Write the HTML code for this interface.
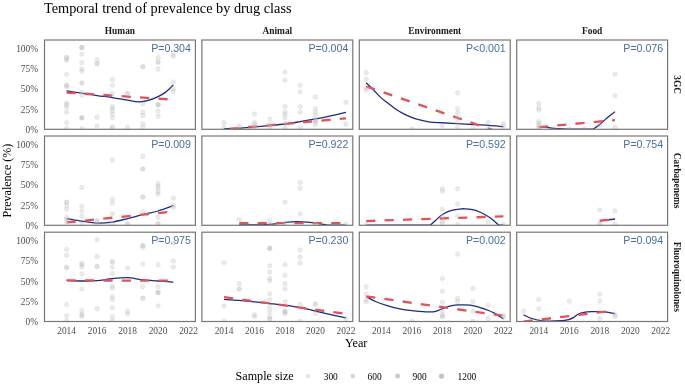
<!DOCTYPE html><html><head><meta charset="utf-8"><title>Temporal trend of prevalence by drug class</title>
<style>html,body{margin:0;padding:0;background:#fff;}svg{display:block;will-change:transform;}text{font-family:"Liberation Serif",serif;}.pv{font-family:"Liberation Sans",sans-serif;font-size:10.6px;fill:#4870a3;text-anchor:end;}.ax{font-size:9.4px;fill:#4d4d4d;}.st{font-size:9.4px;font-weight:bold;fill:#1a1a1a;}</style></head><body>
<svg width="685" height="387" viewBox="0 0 685 387">
<rect x="0" y="0" width="685" height="387" fill="#fff"/>
<text x="44" y="13" style="font-size:14.3px;fill:#000">Temporal trend of prevalence by drug class</text>
<text class="st" x="119.95" y="34" text-anchor="middle">Human</text>
<text class="st" x="277.35" y="34" text-anchor="middle">Animal</text>
<text class="st" x="434.75" y="34" text-anchor="middle">Environment</text>
<text class="st" x="592.15" y="34" text-anchor="middle">Food</text>
<text class="st" x="0" y="0" text-anchor="middle" transform="translate(673.6,84.65) rotate(90)">3GC</text>
<text class="st" x="0" y="0" text-anchor="middle" transform="translate(673.6,180.65) rotate(90)">Carbapenems</text>
<text class="st" x="0" y="0" text-anchor="middle" transform="translate(673.6,276.85) rotate(90)">Fluoroquinolones</text>
<clipPath id="c00"><rect x="44.50" y="40.00" width="150.90" height="89.30"/></clipPath>
<g clip-path="url(#c00)">
<path d="M66.60,90.90 C69.14,91.28 76.76,92.41 81.84,93.19 C86.92,93.96 92.01,94.84 97.09,95.56 C102.17,96.28 107.25,96.74 112.33,97.52 C117.41,98.29 123.25,99.49 127.57,100.21 C131.89,100.94 134.94,101.77 138.24,101.85 C141.54,101.93 144.08,101.58 147.39,100.71 C150.69,99.83 155.01,98.05 158.06,96.62 C161.10,95.19 163.14,94.06 165.68,92.13 C168.22,90.19 172.03,86.20 173.30,85.02" fill="none" stroke="#1f2a80" stroke-width="1.3" stroke-linejoin="round"/>
<line x1="66.60" y1="92.54" x2="173.30" y2="99.64" stroke="#e2525a" stroke-width="2.3" stroke-dasharray="9.2 9.2" stroke-dashoffset="0.00"/>
<text class="pv" x="190.90" y="51.50">P=0.304</text>
<circle cx="66.60" cy="57.40" r="2.25" fill="#bcbcbc" fill-opacity="0.48" stroke="#bcbcbc" stroke-opacity="0.48" stroke-width="0.7"/>
<circle cx="66.60" cy="59.86" r="2.25" fill="#bcbcbc" fill-opacity="0.48" stroke="#bcbcbc" stroke-opacity="0.48" stroke-width="0.7"/>
<circle cx="66.60" cy="74.56" r="2.25" fill="#bcbcbc" fill-opacity="0.30" stroke="#bcbcbc" stroke-opacity="0.30" stroke-width="0.7"/>
<circle cx="66.60" cy="85.18" r="2.25" fill="#bcbcbc" fill-opacity="0.48" stroke="#bcbcbc" stroke-opacity="0.48" stroke-width="0.7"/>
<circle cx="66.60" cy="86.82" r="2.25" fill="#bcbcbc" fill-opacity="0.30" stroke="#bcbcbc" stroke-opacity="0.30" stroke-width="0.7"/>
<circle cx="66.60" cy="103.16" r="2.25" fill="#bcbcbc" fill-opacity="0.30" stroke="#bcbcbc" stroke-opacity="0.30" stroke-width="0.7"/>
<circle cx="66.60" cy="104.79" r="2.25" fill="#bcbcbc" fill-opacity="0.30" stroke="#bcbcbc" stroke-opacity="0.30" stroke-width="0.7"/>
<circle cx="66.60" cy="107.24" r="2.25" fill="#bcbcbc" fill-opacity="0.30" stroke="#bcbcbc" stroke-opacity="0.30" stroke-width="0.7"/>
<circle cx="66.60" cy="112.14" r="2.25" fill="#bcbcbc" fill-opacity="0.30" stroke="#bcbcbc" stroke-opacity="0.30" stroke-width="0.7"/>
<circle cx="66.60" cy="122.76" r="2.25" fill="#bcbcbc" fill-opacity="0.30" stroke="#bcbcbc" stroke-opacity="0.30" stroke-width="0.7"/>
<circle cx="66.60" cy="128.48" r="2.25" fill="#bcbcbc" fill-opacity="0.30" stroke="#bcbcbc" stroke-opacity="0.30" stroke-width="0.7"/>
<circle cx="81.84" cy="47.60" r="2.25" fill="#bcbcbc" fill-opacity="0.66" stroke="#bcbcbc" stroke-opacity="0.66" stroke-width="0.7"/>
<circle cx="81.84" cy="54.14" r="2.25" fill="#bcbcbc" fill-opacity="0.30" stroke="#bcbcbc" stroke-opacity="0.30" stroke-width="0.7"/>
<circle cx="81.84" cy="62.63" r="2.25" fill="#bcbcbc" fill-opacity="0.30" stroke="#bcbcbc" stroke-opacity="0.30" stroke-width="0.7"/>
<circle cx="81.84" cy="69.01" r="2.25" fill="#bcbcbc" fill-opacity="0.30" stroke="#bcbcbc" stroke-opacity="0.30" stroke-width="0.7"/>
<circle cx="81.84" cy="71.37" r="2.25" fill="#bcbcbc" fill-opacity="0.30" stroke="#bcbcbc" stroke-opacity="0.30" stroke-width="0.7"/>
<circle cx="81.84" cy="82.98" r="2.25" fill="#bcbcbc" fill-opacity="0.48" stroke="#bcbcbc" stroke-opacity="0.48" stroke-width="0.7"/>
<circle cx="81.84" cy="92.29" r="2.25" fill="#bcbcbc" fill-opacity="0.30" stroke="#bcbcbc" stroke-opacity="0.30" stroke-width="0.7"/>
<circle cx="81.84" cy="95.07" r="2.25" fill="#bcbcbc" fill-opacity="0.30" stroke="#bcbcbc" stroke-opacity="0.30" stroke-width="0.7"/>
<circle cx="81.84" cy="117.86" r="2.25" fill="#bcbcbc" fill-opacity="0.66" stroke="#bcbcbc" stroke-opacity="0.66" stroke-width="0.7"/>
<circle cx="81.84" cy="128.48" r="2.25" fill="#bcbcbc" fill-opacity="0.30" stroke="#bcbcbc" stroke-opacity="0.30" stroke-width="0.7"/>
<circle cx="97.09" cy="59.86" r="2.25" fill="#bcbcbc" fill-opacity="0.30" stroke="#bcbcbc" stroke-opacity="0.30" stroke-width="0.7"/>
<circle cx="97.09" cy="63.69" r="2.25" fill="#bcbcbc" fill-opacity="0.48" stroke="#bcbcbc" stroke-opacity="0.48" stroke-width="0.7"/>
<circle cx="97.09" cy="117.37" r="2.25" fill="#bcbcbc" fill-opacity="0.30" stroke="#bcbcbc" stroke-opacity="0.30" stroke-width="0.7"/>
<circle cx="97.09" cy="126.03" r="2.25" fill="#bcbcbc" fill-opacity="0.30" stroke="#bcbcbc" stroke-opacity="0.30" stroke-width="0.7"/>
<circle cx="112.33" cy="79.46" r="2.25" fill="#bcbcbc" fill-opacity="0.30" stroke="#bcbcbc" stroke-opacity="0.30" stroke-width="0.7"/>
<circle cx="112.33" cy="85.35" r="2.25" fill="#bcbcbc" fill-opacity="0.30" stroke="#bcbcbc" stroke-opacity="0.30" stroke-width="0.7"/>
<circle cx="112.33" cy="93.52" r="2.25" fill="#bcbcbc" fill-opacity="0.30" stroke="#bcbcbc" stroke-opacity="0.30" stroke-width="0.7"/>
<circle cx="112.33" cy="106.42" r="2.25" fill="#bcbcbc" fill-opacity="0.30" stroke="#bcbcbc" stroke-opacity="0.30" stroke-width="0.7"/>
<circle cx="112.33" cy="108.63" r="2.25" fill="#bcbcbc" fill-opacity="0.30" stroke="#bcbcbc" stroke-opacity="0.30" stroke-width="0.7"/>
<circle cx="112.33" cy="110.92" r="2.25" fill="#bcbcbc" fill-opacity="0.30" stroke="#bcbcbc" stroke-opacity="0.30" stroke-width="0.7"/>
<circle cx="112.33" cy="114.43" r="2.25" fill="#bcbcbc" fill-opacity="0.30" stroke="#bcbcbc" stroke-opacity="0.30" stroke-width="0.7"/>
<circle cx="112.33" cy="117.86" r="2.25" fill="#bcbcbc" fill-opacity="0.30" stroke="#bcbcbc" stroke-opacity="0.30" stroke-width="0.7"/>
<circle cx="112.33" cy="127.18" r="2.25" fill="#bcbcbc" fill-opacity="0.48" stroke="#bcbcbc" stroke-opacity="0.48" stroke-width="0.7"/>
<circle cx="127.57" cy="93.52" r="2.25" fill="#bcbcbc" fill-opacity="0.48" stroke="#bcbcbc" stroke-opacity="0.48" stroke-width="0.7"/>
<circle cx="127.57" cy="127.18" r="2.25" fill="#bcbcbc" fill-opacity="0.30" stroke="#bcbcbc" stroke-opacity="0.30" stroke-width="0.7"/>
<circle cx="142.81" cy="66.72" r="2.25" fill="#bcbcbc" fill-opacity="0.48" stroke="#bcbcbc" stroke-opacity="0.48" stroke-width="0.7"/>
<circle cx="142.81" cy="103.97" r="2.25" fill="#bcbcbc" fill-opacity="0.30" stroke="#bcbcbc" stroke-opacity="0.30" stroke-width="0.7"/>
<circle cx="142.81" cy="112.14" r="2.25" fill="#bcbcbc" fill-opacity="0.30" stroke="#bcbcbc" stroke-opacity="0.30" stroke-width="0.7"/>
<circle cx="142.81" cy="115.57" r="2.25" fill="#bcbcbc" fill-opacity="0.30" stroke="#bcbcbc" stroke-opacity="0.30" stroke-width="0.7"/>
<circle cx="142.81" cy="123.66" r="2.25" fill="#bcbcbc" fill-opacity="0.30" stroke="#bcbcbc" stroke-opacity="0.30" stroke-width="0.7"/>
<circle cx="142.81" cy="127.18" r="2.25" fill="#bcbcbc" fill-opacity="0.30" stroke="#bcbcbc" stroke-opacity="0.30" stroke-width="0.7"/>
<circle cx="158.06" cy="57.40" r="2.25" fill="#bcbcbc" fill-opacity="0.30" stroke="#bcbcbc" stroke-opacity="0.30" stroke-width="0.7"/>
<circle cx="158.06" cy="62.14" r="2.25" fill="#bcbcbc" fill-opacity="0.48" stroke="#bcbcbc" stroke-opacity="0.48" stroke-width="0.7"/>
<circle cx="158.06" cy="69.01" r="2.25" fill="#bcbcbc" fill-opacity="0.30" stroke="#bcbcbc" stroke-opacity="0.30" stroke-width="0.7"/>
<circle cx="158.06" cy="104.71" r="2.25" fill="#bcbcbc" fill-opacity="0.66" stroke="#bcbcbc" stroke-opacity="0.66" stroke-width="0.7"/>
<circle cx="158.06" cy="110.92" r="2.25" fill="#bcbcbc" fill-opacity="0.30" stroke="#bcbcbc" stroke-opacity="0.30" stroke-width="0.7"/>
<circle cx="158.06" cy="116.31" r="2.25" fill="#bcbcbc" fill-opacity="0.30" stroke="#bcbcbc" stroke-opacity="0.30" stroke-width="0.7"/>
<circle cx="173.30" cy="54.14" r="2.25" fill="#bcbcbc" fill-opacity="0.30" stroke="#bcbcbc" stroke-opacity="0.30" stroke-width="0.7"/>
<circle cx="173.30" cy="56.34" r="2.25" fill="#bcbcbc" fill-opacity="0.30" stroke="#bcbcbc" stroke-opacity="0.30" stroke-width="0.7"/>
<circle cx="173.30" cy="81.91" r="2.25" fill="#bcbcbc" fill-opacity="0.30" stroke="#bcbcbc" stroke-opacity="0.30" stroke-width="0.7"/>
<circle cx="173.30" cy="88.78" r="2.25" fill="#bcbcbc" fill-opacity="0.30" stroke="#bcbcbc" stroke-opacity="0.30" stroke-width="0.7"/>
<circle cx="173.30" cy="91.64" r="2.25" fill="#bcbcbc" fill-opacity="0.30" stroke="#bcbcbc" stroke-opacity="0.30" stroke-width="0.7"/>
</g>
<rect x="44.50" y="40.00" width="150.90" height="89.30" fill="none" stroke="#777777" stroke-width="1.20"/>
<clipPath id="c10"><rect x="201.90" y="40.00" width="150.90" height="89.30"/></clipPath>
<g clip-path="url(#c10)">
<path d="M224.00,128.56 C226.54,128.51 234.16,128.52 239.24,128.24 C244.32,127.95 249.41,127.30 254.49,126.85 C259.57,126.40 264.65,126.02 269.73,125.54 C274.81,125.07 279.89,124.64 284.97,123.99 C290.05,123.34 295.13,122.46 300.21,121.62 C305.29,120.78 310.38,119.89 315.46,118.92 C320.54,117.96 325.62,116.92 330.70,115.82 C335.78,114.72 343.40,112.89 345.94,112.31" fill="none" stroke="#1f2a80" stroke-width="1.3" stroke-linejoin="round"/>
<line x1="224.00" y1="129.42" x2="345.94" y2="118.35" stroke="#e2525a" stroke-width="2.3" stroke-dasharray="9.2 9.2" stroke-dashoffset="12.60"/>
<text class="pv" x="348.30" y="51.50">P=0.004</text>
<circle cx="224.00" cy="122.60" r="2.25" fill="#bcbcbc" fill-opacity="0.30" stroke="#bcbcbc" stroke-opacity="0.30" stroke-width="0.7"/>
<circle cx="224.00" cy="127.18" r="2.25" fill="#bcbcbc" fill-opacity="0.30" stroke="#bcbcbc" stroke-opacity="0.30" stroke-width="0.7"/>
<circle cx="239.24" cy="126.03" r="2.25" fill="#bcbcbc" fill-opacity="0.30" stroke="#bcbcbc" stroke-opacity="0.30" stroke-width="0.7"/>
<circle cx="239.24" cy="128.48" r="2.25" fill="#bcbcbc" fill-opacity="0.30" stroke="#bcbcbc" stroke-opacity="0.30" stroke-width="0.7"/>
<circle cx="254.49" cy="114.02" r="2.25" fill="#bcbcbc" fill-opacity="0.30" stroke="#bcbcbc" stroke-opacity="0.30" stroke-width="0.7"/>
<circle cx="254.49" cy="122.60" r="2.25" fill="#bcbcbc" fill-opacity="0.30" stroke="#bcbcbc" stroke-opacity="0.30" stroke-width="0.7"/>
<circle cx="254.49" cy="124.56" r="2.25" fill="#bcbcbc" fill-opacity="0.30" stroke="#bcbcbc" stroke-opacity="0.30" stroke-width="0.7"/>
<circle cx="254.49" cy="127.18" r="2.25" fill="#bcbcbc" fill-opacity="0.30" stroke="#bcbcbc" stroke-opacity="0.30" stroke-width="0.7"/>
<circle cx="269.73" cy="119.09" r="2.25" fill="#bcbcbc" fill-opacity="0.30" stroke="#bcbcbc" stroke-opacity="0.30" stroke-width="0.7"/>
<circle cx="269.73" cy="124.56" r="2.25" fill="#bcbcbc" fill-opacity="0.30" stroke="#bcbcbc" stroke-opacity="0.30" stroke-width="0.7"/>
<circle cx="269.73" cy="127.18" r="2.25" fill="#bcbcbc" fill-opacity="0.30" stroke="#bcbcbc" stroke-opacity="0.30" stroke-width="0.7"/>
<circle cx="284.97" cy="72.11" r="2.25" fill="#bcbcbc" fill-opacity="0.30" stroke="#bcbcbc" stroke-opacity="0.30" stroke-width="0.7"/>
<circle cx="284.97" cy="80.28" r="2.25" fill="#bcbcbc" fill-opacity="0.30" stroke="#bcbcbc" stroke-opacity="0.30" stroke-width="0.7"/>
<circle cx="284.97" cy="106.42" r="2.25" fill="#bcbcbc" fill-opacity="0.30" stroke="#bcbcbc" stroke-opacity="0.30" stroke-width="0.7"/>
<circle cx="284.97" cy="112.14" r="2.25" fill="#bcbcbc" fill-opacity="0.30" stroke="#bcbcbc" stroke-opacity="0.30" stroke-width="0.7"/>
<circle cx="284.97" cy="114.43" r="2.25" fill="#bcbcbc" fill-opacity="0.30" stroke="#bcbcbc" stroke-opacity="0.30" stroke-width="0.7"/>
<circle cx="284.97" cy="117.94" r="2.25" fill="#bcbcbc" fill-opacity="0.30" stroke="#bcbcbc" stroke-opacity="0.30" stroke-width="0.7"/>
<circle cx="284.97" cy="123.58" r="2.25" fill="#bcbcbc" fill-opacity="0.30" stroke="#bcbcbc" stroke-opacity="0.30" stroke-width="0.7"/>
<circle cx="284.97" cy="127.67" r="2.25" fill="#bcbcbc" fill-opacity="0.30" stroke="#bcbcbc" stroke-opacity="0.30" stroke-width="0.7"/>
<circle cx="300.21" cy="85.35" r="2.25" fill="#bcbcbc" fill-opacity="0.30" stroke="#bcbcbc" stroke-opacity="0.30" stroke-width="0.7"/>
<circle cx="300.21" cy="91.64" r="2.25" fill="#bcbcbc" fill-opacity="0.30" stroke="#bcbcbc" stroke-opacity="0.30" stroke-width="0.7"/>
<circle cx="300.21" cy="106.42" r="2.25" fill="#bcbcbc" fill-opacity="0.30" stroke="#bcbcbc" stroke-opacity="0.30" stroke-width="0.7"/>
<circle cx="300.21" cy="112.14" r="2.25" fill="#bcbcbc" fill-opacity="0.30" stroke="#bcbcbc" stroke-opacity="0.30" stroke-width="0.7"/>
<circle cx="300.21" cy="127.67" r="2.25" fill="#bcbcbc" fill-opacity="0.30" stroke="#bcbcbc" stroke-opacity="0.30" stroke-width="0.7"/>
<circle cx="315.46" cy="97.03" r="2.25" fill="#bcbcbc" fill-opacity="0.30" stroke="#bcbcbc" stroke-opacity="0.30" stroke-width="0.7"/>
<circle cx="315.46" cy="108.63" r="2.25" fill="#bcbcbc" fill-opacity="0.30" stroke="#bcbcbc" stroke-opacity="0.30" stroke-width="0.7"/>
<circle cx="315.46" cy="112.14" r="2.25" fill="#bcbcbc" fill-opacity="0.30" stroke="#bcbcbc" stroke-opacity="0.30" stroke-width="0.7"/>
<circle cx="315.46" cy="115.57" r="2.25" fill="#bcbcbc" fill-opacity="0.30" stroke="#bcbcbc" stroke-opacity="0.30" stroke-width="0.7"/>
<circle cx="315.46" cy="120.23" r="2.25" fill="#bcbcbc" fill-opacity="0.48" stroke="#bcbcbc" stroke-opacity="0.48" stroke-width="0.7"/>
<circle cx="315.46" cy="122.36" r="2.25" fill="#bcbcbc" fill-opacity="0.30" stroke="#bcbcbc" stroke-opacity="0.30" stroke-width="0.7"/>
<circle cx="315.46" cy="124.56" r="2.25" fill="#bcbcbc" fill-opacity="0.30" stroke="#bcbcbc" stroke-opacity="0.30" stroke-width="0.7"/>
<circle cx="345.94" cy="102.34" r="2.25" fill="#bcbcbc" fill-opacity="0.30" stroke="#bcbcbc" stroke-opacity="0.30" stroke-width="0.7"/>
<circle cx="345.94" cy="124.23" r="2.25" fill="#bcbcbc" fill-opacity="0.30" stroke="#bcbcbc" stroke-opacity="0.30" stroke-width="0.7"/>
</g>
<rect x="201.90" y="40.00" width="150.90" height="89.30" fill="none" stroke="#777777" stroke-width="1.20"/>
<clipPath id="c20"><rect x="359.30" y="40.00" width="150.90" height="89.30"/></clipPath>
<g clip-path="url(#c20)">
<path d="M366.16,82.73 C367.28,83.81 370.55,86.83 372.87,89.19 C375.18,91.54 377.54,94.55 380.03,96.87 C382.52,99.18 385.21,101.05 387.80,103.07 C390.39,105.10 393.01,107.28 395.58,109.04 C398.14,110.79 400.63,112.27 403.20,113.61 C405.76,114.96 408.38,116.12 410.97,117.13 C413.56,118.13 415.54,118.84 418.75,119.66 C421.95,120.48 426.24,121.51 430.18,122.03 C434.11,122.55 437.80,122.49 442.37,122.76 C446.94,123.04 452.53,123.38 457.61,123.66 C462.69,123.95 467.78,124.19 472.86,124.48 C477.94,124.77 483.02,125.02 488.10,125.38 C493.18,125.73 500.80,126.40 503.34,126.60" fill="none" stroke="#1f2a80" stroke-width="1.3" stroke-linejoin="round"/>
<line x1="366.16" y1="86.33" x2="503.34" y2="133.71" stroke="#e2525a" stroke-width="2.3" stroke-dasharray="9.2 9.2" stroke-dashoffset="0.00"/>
<text class="pv" x="505.70" y="51.50">P&lt;0.001</text>
<circle cx="366.16" cy="72.60" r="2.25" fill="#bcbcbc" fill-opacity="0.30" stroke="#bcbcbc" stroke-opacity="0.30" stroke-width="0.7"/>
<circle cx="366.16" cy="79.14" r="2.25" fill="#bcbcbc" fill-opacity="0.30" stroke="#bcbcbc" stroke-opacity="0.30" stroke-width="0.7"/>
<circle cx="366.16" cy="87.63" r="2.25" fill="#bcbcbc" fill-opacity="0.30" stroke="#bcbcbc" stroke-opacity="0.30" stroke-width="0.7"/>
<circle cx="366.16" cy="90.08" r="2.25" fill="#bcbcbc" fill-opacity="0.30" stroke="#bcbcbc" stroke-opacity="0.30" stroke-width="0.7"/>
<circle cx="411.89" cy="129.05" r="2.25" fill="#bcbcbc" fill-opacity="0.30" stroke="#bcbcbc" stroke-opacity="0.30" stroke-width="0.7"/>
<circle cx="442.37" cy="125.54" r="2.25" fill="#bcbcbc" fill-opacity="0.30" stroke="#bcbcbc" stroke-opacity="0.30" stroke-width="0.7"/>
<circle cx="457.61" cy="93.03" r="2.25" fill="#bcbcbc" fill-opacity="0.30" stroke="#bcbcbc" stroke-opacity="0.30" stroke-width="0.7"/>
<circle cx="457.61" cy="108.63" r="2.25" fill="#bcbcbc" fill-opacity="0.30" stroke="#bcbcbc" stroke-opacity="0.30" stroke-width="0.7"/>
<circle cx="457.61" cy="113.29" r="2.25" fill="#bcbcbc" fill-opacity="0.30" stroke="#bcbcbc" stroke-opacity="0.30" stroke-width="0.7"/>
<circle cx="457.61" cy="117.94" r="2.25" fill="#bcbcbc" fill-opacity="0.30" stroke="#bcbcbc" stroke-opacity="0.30" stroke-width="0.7"/>
<circle cx="457.61" cy="122.60" r="2.25" fill="#bcbcbc" fill-opacity="0.30" stroke="#bcbcbc" stroke-opacity="0.30" stroke-width="0.7"/>
<circle cx="457.61" cy="127.18" r="2.25" fill="#bcbcbc" fill-opacity="0.30" stroke="#bcbcbc" stroke-opacity="0.30" stroke-width="0.7"/>
<circle cx="472.86" cy="128.89" r="2.25" fill="#bcbcbc" fill-opacity="0.30" stroke="#bcbcbc" stroke-opacity="0.30" stroke-width="0.7"/>
<circle cx="488.10" cy="122.60" r="2.25" fill="#bcbcbc" fill-opacity="0.30" stroke="#bcbcbc" stroke-opacity="0.30" stroke-width="0.7"/>
<circle cx="488.10" cy="128.89" r="2.25" fill="#bcbcbc" fill-opacity="0.30" stroke="#bcbcbc" stroke-opacity="0.30" stroke-width="0.7"/>
<circle cx="503.34" cy="123.58" r="2.25" fill="#bcbcbc" fill-opacity="0.30" stroke="#bcbcbc" stroke-opacity="0.30" stroke-width="0.7"/>
<circle cx="503.34" cy="126.28" r="2.25" fill="#bcbcbc" fill-opacity="0.30" stroke="#bcbcbc" stroke-opacity="0.30" stroke-width="0.7"/>
<circle cx="488.10" cy="47.60" r="2.25" fill="#bcbcbc" fill-opacity="0.30" stroke="#bcbcbc" stroke-opacity="0.30" stroke-width="0.7"/>
</g>
<rect x="359.30" y="40.00" width="150.90" height="89.30" fill="none" stroke="#777777" stroke-width="1.20"/>
<clipPath id="c30"><rect x="516.70" y="40.00" width="150.90" height="89.30"/></clipPath>
<g clip-path="url(#c30)">
<path d="M538.80,126.60 C540.17,126.71 544.54,126.97 547.03,127.26 C549.52,127.54 551.10,128.03 553.74,128.32 C556.38,128.61 560.27,128.84 562.88,128.97 C565.50,129.11 568.35,129.11 569.44,129.14 L593.06,129.14 C593.93,128.55 596.49,126.99 598.25,125.62 C600.00,124.26 601.83,122.51 603.58,120.97 C605.33,119.43 606.86,117.92 608.76,116.39 C610.67,114.87 613.97,112.58 615.01,111.82" fill="none" stroke="#1f2a80" stroke-width="1.3" stroke-linejoin="round"/>
<line x1="538.80" y1="127.18" x2="615.01" y2="120.07" stroke="#e2525a" stroke-width="2.3" stroke-dasharray="9.2 9.2" stroke-dashoffset="0.00"/>
<text class="pv" x="663.10" y="51.50">P=0.076</text>
<circle cx="538.80" cy="103.32" r="2.25" fill="#bcbcbc" fill-opacity="0.30" stroke="#bcbcbc" stroke-opacity="0.30" stroke-width="0.7"/>
<circle cx="538.80" cy="107.40" r="2.25" fill="#bcbcbc" fill-opacity="0.30" stroke="#bcbcbc" stroke-opacity="0.30" stroke-width="0.7"/>
<circle cx="538.80" cy="110.18" r="2.25" fill="#bcbcbc" fill-opacity="0.30" stroke="#bcbcbc" stroke-opacity="0.30" stroke-width="0.7"/>
<circle cx="538.80" cy="121.38" r="2.25" fill="#bcbcbc" fill-opacity="0.30" stroke="#bcbcbc" stroke-opacity="0.30" stroke-width="0.7"/>
<circle cx="538.80" cy="123.58" r="2.25" fill="#bcbcbc" fill-opacity="0.30" stroke="#bcbcbc" stroke-opacity="0.30" stroke-width="0.7"/>
<circle cx="538.80" cy="125.71" r="2.25" fill="#bcbcbc" fill-opacity="0.30" stroke="#bcbcbc" stroke-opacity="0.30" stroke-width="0.7"/>
<circle cx="538.80" cy="127.67" r="2.25" fill="#bcbcbc" fill-opacity="0.30" stroke="#bcbcbc" stroke-opacity="0.30" stroke-width="0.7"/>
<circle cx="554.04" cy="128.48" r="2.25" fill="#bcbcbc" fill-opacity="0.30" stroke="#bcbcbc" stroke-opacity="0.30" stroke-width="0.7"/>
<circle cx="569.29" cy="128.89" r="2.25" fill="#bcbcbc" fill-opacity="0.30" stroke="#bcbcbc" stroke-opacity="0.30" stroke-width="0.7"/>
<circle cx="584.53" cy="128.89" r="2.25" fill="#bcbcbc" fill-opacity="0.30" stroke="#bcbcbc" stroke-opacity="0.30" stroke-width="0.7"/>
<circle cx="599.77" cy="125.22" r="2.25" fill="#bcbcbc" fill-opacity="0.30" stroke="#bcbcbc" stroke-opacity="0.30" stroke-width="0.7"/>
<circle cx="615.01" cy="74.23" r="2.25" fill="#bcbcbc" fill-opacity="0.30" stroke="#bcbcbc" stroke-opacity="0.30" stroke-width="0.7"/>
<circle cx="615.01" cy="95.80" r="2.25" fill="#bcbcbc" fill-opacity="0.30" stroke="#bcbcbc" stroke-opacity="0.30" stroke-width="0.7"/>
<circle cx="615.01" cy="127.67" r="2.25" fill="#bcbcbc" fill-opacity="0.30" stroke="#bcbcbc" stroke-opacity="0.30" stroke-width="0.7"/>
</g>
<rect x="516.70" y="40.00" width="150.90" height="89.30" fill="none" stroke="#777777" stroke-width="1.20"/>
<clipPath id="c01"><rect x="44.50" y="136.00" width="150.90" height="89.30"/></clipPath>
<g clip-path="url(#c01)">
<path d="M66.60,218.52 C69.14,218.95 76.76,220.37 81.84,221.13 C86.92,221.90 92.01,222.94 97.09,223.09 C102.17,223.24 107.25,222.79 112.33,222.03 C117.41,221.27 122.49,219.77 127.57,218.52 C132.65,217.27 137.73,215.77 142.81,214.52 C147.89,213.26 152.98,212.47 158.06,211.00 C163.14,209.53 170.76,206.58 173.30,205.69" fill="none" stroke="#1f2a80" stroke-width="1.3" stroke-linejoin="round"/>
<line x1="66.60" y1="222.44" x2="173.30" y2="211.49" stroke="#e2525a" stroke-width="2.3" stroke-dasharray="9.2 9.2" stroke-dashoffset="0.00"/>
<text class="pv" x="190.90" y="147.50">P=0.009</text>
<circle cx="66.60" cy="202.18" r="2.25" fill="#bcbcbc" fill-opacity="0.48" stroke="#bcbcbc" stroke-opacity="0.48" stroke-width="0.7"/>
<circle cx="66.60" cy="205.69" r="2.25" fill="#bcbcbc" fill-opacity="0.30" stroke="#bcbcbc" stroke-opacity="0.30" stroke-width="0.7"/>
<circle cx="66.60" cy="209.21" r="2.25" fill="#bcbcbc" fill-opacity="0.30" stroke="#bcbcbc" stroke-opacity="0.30" stroke-width="0.7"/>
<circle cx="66.60" cy="217.29" r="2.25" fill="#bcbcbc" fill-opacity="0.30" stroke="#bcbcbc" stroke-opacity="0.30" stroke-width="0.7"/>
<circle cx="66.60" cy="219.25" r="2.25" fill="#bcbcbc" fill-opacity="0.30" stroke="#bcbcbc" stroke-opacity="0.30" stroke-width="0.7"/>
<circle cx="66.60" cy="222.20" r="2.25" fill="#bcbcbc" fill-opacity="0.30" stroke="#bcbcbc" stroke-opacity="0.30" stroke-width="0.7"/>
<circle cx="81.84" cy="187.47" r="2.25" fill="#bcbcbc" fill-opacity="0.30" stroke="#bcbcbc" stroke-opacity="0.30" stroke-width="0.7"/>
<circle cx="81.84" cy="206.26" r="2.25" fill="#bcbcbc" fill-opacity="0.30" stroke="#bcbcbc" stroke-opacity="0.30" stroke-width="0.7"/>
<circle cx="81.84" cy="211.00" r="2.25" fill="#bcbcbc" fill-opacity="0.30" stroke="#bcbcbc" stroke-opacity="0.30" stroke-width="0.7"/>
<circle cx="81.84" cy="216.15" r="2.25" fill="#bcbcbc" fill-opacity="0.30" stroke="#bcbcbc" stroke-opacity="0.30" stroke-width="0.7"/>
<circle cx="81.84" cy="224.07" r="2.25" fill="#bcbcbc" fill-opacity="0.30" stroke="#bcbcbc" stroke-opacity="0.30" stroke-width="0.7"/>
<circle cx="97.09" cy="220.81" r="2.25" fill="#bcbcbc" fill-opacity="0.48" stroke="#bcbcbc" stroke-opacity="0.48" stroke-width="0.7"/>
<circle cx="97.09" cy="223.67" r="2.25" fill="#bcbcbc" fill-opacity="0.30" stroke="#bcbcbc" stroke-opacity="0.30" stroke-width="0.7"/>
<circle cx="112.33" cy="159.94" r="2.25" fill="#bcbcbc" fill-opacity="0.30" stroke="#bcbcbc" stroke-opacity="0.30" stroke-width="0.7"/>
<circle cx="112.33" cy="199.16" r="2.25" fill="#bcbcbc" fill-opacity="0.30" stroke="#bcbcbc" stroke-opacity="0.30" stroke-width="0.7"/>
<circle cx="112.33" cy="203.24" r="2.25" fill="#bcbcbc" fill-opacity="0.30" stroke="#bcbcbc" stroke-opacity="0.30" stroke-width="0.7"/>
<circle cx="112.33" cy="213.86" r="2.25" fill="#bcbcbc" fill-opacity="0.30" stroke="#bcbcbc" stroke-opacity="0.30" stroke-width="0.7"/>
<circle cx="112.33" cy="223.67" r="2.25" fill="#bcbcbc" fill-opacity="0.30" stroke="#bcbcbc" stroke-opacity="0.30" stroke-width="0.7"/>
<circle cx="127.57" cy="224.07" r="2.25" fill="#bcbcbc" fill-opacity="0.48" stroke="#bcbcbc" stroke-opacity="0.48" stroke-width="0.7"/>
<circle cx="142.81" cy="156.43" r="2.25" fill="#bcbcbc" fill-opacity="0.30" stroke="#bcbcbc" stroke-opacity="0.30" stroke-width="0.7"/>
<circle cx="142.81" cy="168.93" r="2.25" fill="#bcbcbc" fill-opacity="0.48" stroke="#bcbcbc" stroke-opacity="0.48" stroke-width="0.7"/>
<circle cx="142.81" cy="197.11" r="2.25" fill="#bcbcbc" fill-opacity="0.48" stroke="#bcbcbc" stroke-opacity="0.48" stroke-width="0.7"/>
<circle cx="142.81" cy="211.49" r="2.25" fill="#bcbcbc" fill-opacity="0.30" stroke="#bcbcbc" stroke-opacity="0.30" stroke-width="0.7"/>
<circle cx="158.06" cy="183.63" r="2.25" fill="#bcbcbc" fill-opacity="0.30" stroke="#bcbcbc" stroke-opacity="0.30" stroke-width="0.7"/>
<circle cx="158.06" cy="185.92" r="2.25" fill="#bcbcbc" fill-opacity="0.30" stroke="#bcbcbc" stroke-opacity="0.30" stroke-width="0.7"/>
<circle cx="158.06" cy="188.21" r="2.25" fill="#bcbcbc" fill-opacity="0.30" stroke="#bcbcbc" stroke-opacity="0.30" stroke-width="0.7"/>
<circle cx="158.06" cy="191.72" r="2.25" fill="#bcbcbc" fill-opacity="0.30" stroke="#bcbcbc" stroke-opacity="0.30" stroke-width="0.7"/>
<circle cx="158.06" cy="194.01" r="2.25" fill="#bcbcbc" fill-opacity="0.30" stroke="#bcbcbc" stroke-opacity="0.30" stroke-width="0.7"/>
<circle cx="158.06" cy="217.29" r="2.25" fill="#bcbcbc" fill-opacity="0.30" stroke="#bcbcbc" stroke-opacity="0.30" stroke-width="0.7"/>
<circle cx="158.06" cy="223.67" r="2.25" fill="#bcbcbc" fill-opacity="0.48" stroke="#bcbcbc" stroke-opacity="0.48" stroke-width="0.7"/>
<circle cx="173.30" cy="198.18" r="2.25" fill="#bcbcbc" fill-opacity="0.30" stroke="#bcbcbc" stroke-opacity="0.30" stroke-width="0.7"/>
<circle cx="173.30" cy="205.20" r="2.25" fill="#bcbcbc" fill-opacity="0.30" stroke="#bcbcbc" stroke-opacity="0.30" stroke-width="0.7"/>
<circle cx="173.30" cy="207.33" r="2.25" fill="#bcbcbc" fill-opacity="0.30" stroke="#bcbcbc" stroke-opacity="0.30" stroke-width="0.7"/>
</g>
<rect x="44.50" y="136.00" width="150.90" height="89.30" fill="none" stroke="#777777" stroke-width="1.20"/>
<clipPath id="c11"><rect x="201.90" y="136.00" width="150.90" height="89.30"/></clipPath>
<g clip-path="url(#c11)">
<path d="M239.24,224.97 L259.06,224.97 C260.05,224.92 262.26,224.84 265.00,224.65 C267.75,224.46 272.02,224.21 275.52,223.83 C279.03,223.45 282.53,222.71 286.04,222.36 C289.54,222.00 293.05,221.75 296.56,221.71 C300.06,221.66 303.57,221.84 307.07,222.11 C310.58,222.39 314.39,222.86 317.59,223.34 C320.79,223.82 324.35,224.66 326.28,224.97 C328.21,225.29 328.69,225.18 329.17,225.22 L345.94,225.22" fill="none" stroke="#1f2a80" stroke-width="1.3" stroke-linejoin="round"/>
<line x1="239.24" y1="223.09" x2="345.94" y2="223.09" stroke="#e2525a" stroke-width="2.3" stroke-dasharray="9.2 9.2" stroke-dashoffset="0.00"/>
<text class="pv" x="348.30" y="147.50">P=0.922</text>
<circle cx="239.24" cy="219.58" r="2.25" fill="#bcbcbc" fill-opacity="0.30" stroke="#bcbcbc" stroke-opacity="0.30" stroke-width="0.7"/>
<circle cx="269.73" cy="220.56" r="2.25" fill="#bcbcbc" fill-opacity="0.30" stroke="#bcbcbc" stroke-opacity="0.30" stroke-width="0.7"/>
<circle cx="269.73" cy="224.48" r="2.25" fill="#bcbcbc" fill-opacity="0.30" stroke="#bcbcbc" stroke-opacity="0.30" stroke-width="0.7"/>
<circle cx="284.97" cy="202.18" r="2.25" fill="#bcbcbc" fill-opacity="0.30" stroke="#bcbcbc" stroke-opacity="0.30" stroke-width="0.7"/>
<circle cx="284.97" cy="222.85" r="2.25" fill="#bcbcbc" fill-opacity="0.30" stroke="#bcbcbc" stroke-opacity="0.30" stroke-width="0.7"/>
<circle cx="300.21" cy="182.41" r="2.25" fill="#bcbcbc" fill-opacity="0.30" stroke="#bcbcbc" stroke-opacity="0.30" stroke-width="0.7"/>
<circle cx="300.21" cy="188.21" r="2.25" fill="#bcbcbc" fill-opacity="0.30" stroke="#bcbcbc" stroke-opacity="0.30" stroke-width="0.7"/>
<circle cx="300.21" cy="213.86" r="2.25" fill="#bcbcbc" fill-opacity="0.30" stroke="#bcbcbc" stroke-opacity="0.30" stroke-width="0.7"/>
<circle cx="315.46" cy="224.48" r="2.25" fill="#bcbcbc" fill-opacity="0.30" stroke="#bcbcbc" stroke-opacity="0.30" stroke-width="0.7"/>
<circle cx="345.94" cy="224.07" r="2.25" fill="#bcbcbc" fill-opacity="0.30" stroke="#bcbcbc" stroke-opacity="0.30" stroke-width="0.7"/>
</g>
<rect x="201.90" y="136.00" width="150.90" height="89.30" fill="none" stroke="#777777" stroke-width="1.20"/>
<clipPath id="c21"><rect x="359.30" y="136.00" width="150.90" height="89.30"/></clipPath>
<g clip-path="url(#c21)">
<path d="M366.16,225.05 L430.48,225.05 C431.37,224.25 434.06,221.81 435.82,220.23 C437.57,218.66 439.25,216.90 441.00,215.58 C442.75,214.26 444.35,213.22 446.33,212.31 C448.32,211.40 450.70,210.65 452.89,210.10 C455.07,209.56 457.46,209.26 459.44,209.04 C461.42,208.82 462.59,208.69 464.78,208.80 C466.96,208.91 470.16,209.21 472.55,209.70 C474.94,210.19 476.92,210.85 479.11,211.74 C481.29,212.62 483.45,213.70 485.66,215.01 C487.87,216.31 490.18,217.91 492.37,219.58 C494.55,221.26 497.70,224.14 498.77,225.05 L503.34,225.05" fill="none" stroke="#1f2a80" stroke-width="1.3" stroke-linejoin="round"/>
<line x1="366.16" y1="221.05" x2="503.34" y2="216.31" stroke="#e2525a" stroke-width="2.3" stroke-dasharray="9.2 9.2" stroke-dashoffset="0.00"/>
<text class="pv" x="505.70" y="147.50">P=0.592</text>
<circle cx="366.16" cy="224.89" r="2.25" fill="#bcbcbc" fill-opacity="0.30" stroke="#bcbcbc" stroke-opacity="0.30" stroke-width="0.7"/>
<circle cx="442.37" cy="188.86" r="2.25" fill="#bcbcbc" fill-opacity="0.30" stroke="#bcbcbc" stroke-opacity="0.30" stroke-width="0.7"/>
<circle cx="442.37" cy="191.15" r="2.25" fill="#bcbcbc" fill-opacity="0.30" stroke="#bcbcbc" stroke-opacity="0.30" stroke-width="0.7"/>
<circle cx="442.37" cy="209.21" r="2.25" fill="#bcbcbc" fill-opacity="0.30" stroke="#bcbcbc" stroke-opacity="0.30" stroke-width="0.7"/>
<circle cx="442.37" cy="216.15" r="2.25" fill="#bcbcbc" fill-opacity="0.30" stroke="#bcbcbc" stroke-opacity="0.30" stroke-width="0.7"/>
<circle cx="442.37" cy="222.20" r="2.25" fill="#bcbcbc" fill-opacity="0.48" stroke="#bcbcbc" stroke-opacity="0.48" stroke-width="0.7"/>
<circle cx="457.61" cy="188.86" r="2.25" fill="#bcbcbc" fill-opacity="0.30" stroke="#bcbcbc" stroke-opacity="0.30" stroke-width="0.7"/>
<circle cx="457.61" cy="204.06" r="2.25" fill="#bcbcbc" fill-opacity="0.30" stroke="#bcbcbc" stroke-opacity="0.30" stroke-width="0.7"/>
<circle cx="457.61" cy="216.15" r="2.25" fill="#bcbcbc" fill-opacity="0.30" stroke="#bcbcbc" stroke-opacity="0.30" stroke-width="0.7"/>
<circle cx="457.61" cy="224.48" r="2.25" fill="#bcbcbc" fill-opacity="0.30" stroke="#bcbcbc" stroke-opacity="0.30" stroke-width="0.7"/>
<circle cx="488.10" cy="221.71" r="2.25" fill="#bcbcbc" fill-opacity="0.30" stroke="#bcbcbc" stroke-opacity="0.30" stroke-width="0.7"/>
<circle cx="503.34" cy="224.48" r="2.25" fill="#bcbcbc" fill-opacity="0.30" stroke="#bcbcbc" stroke-opacity="0.30" stroke-width="0.7"/>
</g>
<rect x="359.30" y="136.00" width="150.90" height="89.30" fill="none" stroke="#777777" stroke-width="1.20"/>
<clipPath id="c31"><rect x="516.70" y="136.00" width="150.90" height="89.30"/></clipPath>
<g clip-path="url(#c31)">
<path d="M599.77,220.89 L615.01,219.01" fill="none" stroke="#1f2a80" stroke-width="1.3" stroke-linejoin="round"/>
<line x1="599.77" y1="220.72" x2="615.01" y2="219.42" stroke="#e2525a" stroke-width="2.3" stroke-dasharray="9.2 9.2" stroke-dashoffset="0.00"/>
<text class="pv" x="663.10" y="147.50">P=0.754</text>
<circle cx="599.77" cy="209.94" r="2.25" fill="#bcbcbc" fill-opacity="0.30" stroke="#bcbcbc" stroke-opacity="0.30" stroke-width="0.7"/>
<circle cx="599.77" cy="224.07" r="2.25" fill="#bcbcbc" fill-opacity="0.48" stroke="#bcbcbc" stroke-opacity="0.48" stroke-width="0.7"/>
<circle cx="615.01" cy="211.00" r="2.25" fill="#bcbcbc" fill-opacity="0.30" stroke="#bcbcbc" stroke-opacity="0.30" stroke-width="0.7"/>
<circle cx="615.01" cy="224.48" r="2.25" fill="#bcbcbc" fill-opacity="0.30" stroke="#bcbcbc" stroke-opacity="0.30" stroke-width="0.7"/>
</g>
<rect x="516.70" y="136.00" width="150.90" height="89.30" fill="none" stroke="#777777" stroke-width="1.20"/>
<clipPath id="c02"><rect x="44.50" y="232.20" width="150.90" height="89.30"/></clipPath>
<g clip-path="url(#c02)">
<path d="M66.60,280.40 C69.14,280.50 76.76,280.94 81.84,280.98 C86.92,281.02 92.01,281.06 97.09,280.65 C102.17,280.24 107.25,279.03 112.33,278.53 C117.41,278.02 122.49,277.41 127.57,277.63 C132.65,277.84 137.73,279.27 142.81,279.83 C147.89,280.39 152.98,280.58 158.06,280.98 C163.14,281.37 170.76,282.00 173.30,282.20" fill="none" stroke="#1f2a80" stroke-width="1.3" stroke-linejoin="round"/>
<line x1="66.60" y1="280.40" x2="173.30" y2="280.65" stroke="#e2525a" stroke-width="2.3" stroke-dasharray="9.2 9.2" stroke-dashoffset="0.00"/>
<text class="pv" x="190.90" y="243.70">P=0.975</text>
<circle cx="66.60" cy="249.44" r="2.25" fill="#bcbcbc" fill-opacity="0.30" stroke="#bcbcbc" stroke-opacity="0.30" stroke-width="0.7"/>
<circle cx="66.60" cy="255.32" r="2.25" fill="#bcbcbc" fill-opacity="0.30" stroke="#bcbcbc" stroke-opacity="0.30" stroke-width="0.7"/>
<circle cx="66.60" cy="266.92" r="2.25" fill="#bcbcbc" fill-opacity="0.30" stroke="#bcbcbc" stroke-opacity="0.30" stroke-width="0.7"/>
<circle cx="66.60" cy="267.99" r="2.25" fill="#bcbcbc" fill-opacity="0.30" stroke="#bcbcbc" stroke-opacity="0.30" stroke-width="0.7"/>
<circle cx="66.60" cy="304.59" r="2.25" fill="#bcbcbc" fill-opacity="0.30" stroke="#bcbcbc" stroke-opacity="0.30" stroke-width="0.7"/>
<circle cx="66.60" cy="315.70" r="2.25" fill="#bcbcbc" fill-opacity="0.30" stroke="#bcbcbc" stroke-opacity="0.30" stroke-width="0.7"/>
<circle cx="66.60" cy="320.68" r="2.25" fill="#bcbcbc" fill-opacity="0.30" stroke="#bcbcbc" stroke-opacity="0.30" stroke-width="0.7"/>
<circle cx="81.84" cy="263.41" r="2.25" fill="#bcbcbc" fill-opacity="0.30" stroke="#bcbcbc" stroke-opacity="0.30" stroke-width="0.7"/>
<circle cx="81.84" cy="264.64" r="2.25" fill="#bcbcbc" fill-opacity="0.30" stroke="#bcbcbc" stroke-opacity="0.30" stroke-width="0.7"/>
<circle cx="81.84" cy="266.92" r="2.25" fill="#bcbcbc" fill-opacity="0.30" stroke="#bcbcbc" stroke-opacity="0.30" stroke-width="0.7"/>
<circle cx="81.84" cy="273.87" r="2.25" fill="#bcbcbc" fill-opacity="0.30" stroke="#bcbcbc" stroke-opacity="0.30" stroke-width="0.7"/>
<circle cx="81.84" cy="288.98" r="2.25" fill="#bcbcbc" fill-opacity="0.30" stroke="#bcbcbc" stroke-opacity="0.30" stroke-width="0.7"/>
<circle cx="81.84" cy="310.63" r="2.25" fill="#bcbcbc" fill-opacity="0.30" stroke="#bcbcbc" stroke-opacity="0.30" stroke-width="0.7"/>
<circle cx="81.84" cy="314.64" r="2.25" fill="#bcbcbc" fill-opacity="0.48" stroke="#bcbcbc" stroke-opacity="0.48" stroke-width="0.7"/>
<circle cx="81.84" cy="316.60" r="2.25" fill="#bcbcbc" fill-opacity="0.30" stroke="#bcbcbc" stroke-opacity="0.30" stroke-width="0.7"/>
<circle cx="97.09" cy="239.80" r="2.25" fill="#bcbcbc" fill-opacity="0.30" stroke="#bcbcbc" stroke-opacity="0.30" stroke-width="0.7"/>
<circle cx="97.09" cy="256.39" r="2.25" fill="#bcbcbc" fill-opacity="0.30" stroke="#bcbcbc" stroke-opacity="0.30" stroke-width="0.7"/>
<circle cx="97.09" cy="266.43" r="2.25" fill="#bcbcbc" fill-opacity="0.48" stroke="#bcbcbc" stroke-opacity="0.48" stroke-width="0.7"/>
<circle cx="97.09" cy="308.75" r="2.25" fill="#bcbcbc" fill-opacity="0.30" stroke="#bcbcbc" stroke-opacity="0.30" stroke-width="0.7"/>
<circle cx="112.33" cy="261.86" r="2.25" fill="#bcbcbc" fill-opacity="0.48" stroke="#bcbcbc" stroke-opacity="0.48" stroke-width="0.7"/>
<circle cx="112.33" cy="266.92" r="2.25" fill="#bcbcbc" fill-opacity="0.30" stroke="#bcbcbc" stroke-opacity="0.30" stroke-width="0.7"/>
<circle cx="112.33" cy="273.38" r="2.25" fill="#bcbcbc" fill-opacity="0.30" stroke="#bcbcbc" stroke-opacity="0.30" stroke-width="0.7"/>
<circle cx="112.33" cy="285.96" r="2.25" fill="#bcbcbc" fill-opacity="0.30" stroke="#bcbcbc" stroke-opacity="0.30" stroke-width="0.7"/>
<circle cx="112.33" cy="288.33" r="2.25" fill="#bcbcbc" fill-opacity="0.30" stroke="#bcbcbc" stroke-opacity="0.30" stroke-width="0.7"/>
<circle cx="112.33" cy="296.66" r="2.25" fill="#bcbcbc" fill-opacity="0.30" stroke="#bcbcbc" stroke-opacity="0.30" stroke-width="0.7"/>
<circle cx="112.33" cy="299.44" r="2.25" fill="#bcbcbc" fill-opacity="0.30" stroke="#bcbcbc" stroke-opacity="0.30" stroke-width="0.7"/>
<circle cx="112.33" cy="307.61" r="2.25" fill="#bcbcbc" fill-opacity="0.30" stroke="#bcbcbc" stroke-opacity="0.30" stroke-width="0.7"/>
<circle cx="112.33" cy="316.60" r="2.25" fill="#bcbcbc" fill-opacity="0.30" stroke="#bcbcbc" stroke-opacity="0.30" stroke-width="0.7"/>
<circle cx="112.33" cy="320.68" r="2.25" fill="#bcbcbc" fill-opacity="0.30" stroke="#bcbcbc" stroke-opacity="0.30" stroke-width="0.7"/>
<circle cx="127.57" cy="267.99" r="2.25" fill="#bcbcbc" fill-opacity="0.30" stroke="#bcbcbc" stroke-opacity="0.30" stroke-width="0.7"/>
<circle cx="127.57" cy="311.04" r="2.25" fill="#bcbcbc" fill-opacity="0.30" stroke="#bcbcbc" stroke-opacity="0.30" stroke-width="0.7"/>
<circle cx="127.57" cy="313.90" r="2.25" fill="#bcbcbc" fill-opacity="0.30" stroke="#bcbcbc" stroke-opacity="0.30" stroke-width="0.7"/>
<circle cx="142.81" cy="245.52" r="2.25" fill="#bcbcbc" fill-opacity="0.48" stroke="#bcbcbc" stroke-opacity="0.48" stroke-width="0.7"/>
<circle cx="142.81" cy="247.15" r="2.25" fill="#bcbcbc" fill-opacity="0.30" stroke="#bcbcbc" stroke-opacity="0.30" stroke-width="0.7"/>
<circle cx="142.81" cy="264.06" r="2.25" fill="#bcbcbc" fill-opacity="0.30" stroke="#bcbcbc" stroke-opacity="0.30" stroke-width="0.7"/>
<circle cx="142.81" cy="286.70" r="2.25" fill="#bcbcbc" fill-opacity="0.30" stroke="#bcbcbc" stroke-opacity="0.30" stroke-width="0.7"/>
<circle cx="142.81" cy="298.30" r="2.25" fill="#bcbcbc" fill-opacity="0.48" stroke="#bcbcbc" stroke-opacity="0.48" stroke-width="0.7"/>
<circle cx="158.06" cy="264.64" r="2.25" fill="#bcbcbc" fill-opacity="0.30" stroke="#bcbcbc" stroke-opacity="0.30" stroke-width="0.7"/>
<circle cx="158.06" cy="286.70" r="2.25" fill="#bcbcbc" fill-opacity="0.30" stroke="#bcbcbc" stroke-opacity="0.30" stroke-width="0.7"/>
<circle cx="158.06" cy="292.50" r="2.25" fill="#bcbcbc" fill-opacity="0.66" stroke="#bcbcbc" stroke-opacity="0.66" stroke-width="0.7"/>
<circle cx="158.06" cy="305.98" r="2.25" fill="#bcbcbc" fill-opacity="0.30" stroke="#bcbcbc" stroke-opacity="0.30" stroke-width="0.7"/>
<circle cx="173.30" cy="261.12" r="2.25" fill="#bcbcbc" fill-opacity="0.30" stroke="#bcbcbc" stroke-opacity="0.30" stroke-width="0.7"/>
<circle cx="173.30" cy="266.92" r="2.25" fill="#bcbcbc" fill-opacity="0.30" stroke="#bcbcbc" stroke-opacity="0.30" stroke-width="0.7"/>
<circle cx="158.06" cy="240.21" r="2.25" fill="#bcbcbc" fill-opacity="0.30" stroke="#bcbcbc" stroke-opacity="0.30" stroke-width="0.7"/>
<circle cx="173.30" cy="243.07" r="2.25" fill="#bcbcbc" fill-opacity="0.30" stroke="#bcbcbc" stroke-opacity="0.30" stroke-width="0.7"/>
</g>
<rect x="44.50" y="232.20" width="150.90" height="89.30" fill="none" stroke="#777777" stroke-width="1.20"/>
<clipPath id="c12"><rect x="201.90" y="232.20" width="150.90" height="89.30"/></clipPath>
<g clip-path="url(#c12)">
<path d="M224.00,299.44 C226.54,299.60 234.16,300.03 239.24,300.42 C244.32,300.82 249.41,301.29 254.49,301.81 C259.57,302.33 264.65,302.94 269.73,303.53 C274.81,304.11 279.89,304.64 284.97,305.32 C290.05,306.00 295.13,306.66 300.21,307.61 C305.29,308.56 310.38,309.88 315.46,311.04 C320.54,312.20 325.62,313.40 330.70,314.56 C335.78,315.71 343.40,317.41 345.94,317.99" fill="none" stroke="#1f2a80" stroke-width="1.3" stroke-linejoin="round"/>
<line x1="224.00" y1="297.07" x2="345.94" y2="313.90" stroke="#e2525a" stroke-width="2.3" stroke-dasharray="9.2 9.2" stroke-dashoffset="0.00"/>
<text class="pv" x="348.30" y="243.70">P=0.230</text>
<circle cx="224.00" cy="262.68" r="2.25" fill="#bcbcbc" fill-opacity="0.30" stroke="#bcbcbc" stroke-opacity="0.30" stroke-width="0.7"/>
<circle cx="224.00" cy="305.98" r="2.25" fill="#bcbcbc" fill-opacity="0.30" stroke="#bcbcbc" stroke-opacity="0.30" stroke-width="0.7"/>
<circle cx="224.00" cy="321.09" r="2.25" fill="#bcbcbc" fill-opacity="0.30" stroke="#bcbcbc" stroke-opacity="0.30" stroke-width="0.7"/>
<circle cx="239.24" cy="283.59" r="2.25" fill="#bcbcbc" fill-opacity="0.30" stroke="#bcbcbc" stroke-opacity="0.30" stroke-width="0.7"/>
<circle cx="239.24" cy="288.98" r="2.25" fill="#bcbcbc" fill-opacity="0.48" stroke="#bcbcbc" stroke-opacity="0.48" stroke-width="0.7"/>
<circle cx="254.49" cy="314.64" r="2.25" fill="#bcbcbc" fill-opacity="0.30" stroke="#bcbcbc" stroke-opacity="0.30" stroke-width="0.7"/>
<circle cx="254.49" cy="316.60" r="2.25" fill="#bcbcbc" fill-opacity="0.30" stroke="#bcbcbc" stroke-opacity="0.30" stroke-width="0.7"/>
<circle cx="269.73" cy="248.30" r="2.25" fill="#bcbcbc" fill-opacity="0.66" stroke="#bcbcbc" stroke-opacity="0.66" stroke-width="0.7"/>
<circle cx="269.73" cy="265.70" r="2.25" fill="#bcbcbc" fill-opacity="0.30" stroke="#bcbcbc" stroke-opacity="0.30" stroke-width="0.7"/>
<circle cx="269.73" cy="271.99" r="2.25" fill="#bcbcbc" fill-opacity="0.30" stroke="#bcbcbc" stroke-opacity="0.30" stroke-width="0.7"/>
<circle cx="269.73" cy="278.53" r="2.25" fill="#bcbcbc" fill-opacity="0.30" stroke="#bcbcbc" stroke-opacity="0.30" stroke-width="0.7"/>
<circle cx="269.73" cy="280.81" r="2.25" fill="#bcbcbc" fill-opacity="0.30" stroke="#bcbcbc" stroke-opacity="0.30" stroke-width="0.7"/>
<circle cx="269.73" cy="293.64" r="2.25" fill="#bcbcbc" fill-opacity="0.30" stroke="#bcbcbc" stroke-opacity="0.30" stroke-width="0.7"/>
<circle cx="269.73" cy="299.44" r="2.25" fill="#bcbcbc" fill-opacity="0.30" stroke="#bcbcbc" stroke-opacity="0.30" stroke-width="0.7"/>
<circle cx="269.73" cy="307.61" r="2.25" fill="#bcbcbc" fill-opacity="0.30" stroke="#bcbcbc" stroke-opacity="0.30" stroke-width="0.7"/>
<circle cx="269.73" cy="311.70" r="2.25" fill="#bcbcbc" fill-opacity="0.30" stroke="#bcbcbc" stroke-opacity="0.30" stroke-width="0.7"/>
<circle cx="269.73" cy="316.60" r="2.25" fill="#bcbcbc" fill-opacity="0.30" stroke="#bcbcbc" stroke-opacity="0.30" stroke-width="0.7"/>
<circle cx="269.73" cy="319.05" r="2.25" fill="#bcbcbc" fill-opacity="0.48" stroke="#bcbcbc" stroke-opacity="0.48" stroke-width="0.7"/>
<circle cx="284.97" cy="264.64" r="2.25" fill="#bcbcbc" fill-opacity="0.30" stroke="#bcbcbc" stroke-opacity="0.30" stroke-width="0.7"/>
<circle cx="284.97" cy="275.34" r="2.25" fill="#bcbcbc" fill-opacity="0.30" stroke="#bcbcbc" stroke-opacity="0.30" stroke-width="0.7"/>
<circle cx="284.97" cy="283.59" r="2.25" fill="#bcbcbc" fill-opacity="0.30" stroke="#bcbcbc" stroke-opacity="0.30" stroke-width="0.7"/>
<circle cx="284.97" cy="288.98" r="2.25" fill="#bcbcbc" fill-opacity="0.30" stroke="#bcbcbc" stroke-opacity="0.30" stroke-width="0.7"/>
<circle cx="284.97" cy="301.81" r="2.25" fill="#bcbcbc" fill-opacity="0.30" stroke="#bcbcbc" stroke-opacity="0.30" stroke-width="0.7"/>
<circle cx="284.97" cy="311.04" r="2.25" fill="#bcbcbc" fill-opacity="0.30" stroke="#bcbcbc" stroke-opacity="0.30" stroke-width="0.7"/>
<circle cx="284.97" cy="312.10" r="2.25" fill="#bcbcbc" fill-opacity="0.48" stroke="#bcbcbc" stroke-opacity="0.48" stroke-width="0.7"/>
<circle cx="284.97" cy="313.74" r="2.25" fill="#bcbcbc" fill-opacity="0.30" stroke="#bcbcbc" stroke-opacity="0.30" stroke-width="0.7"/>
<circle cx="300.21" cy="249.93" r="2.25" fill="#bcbcbc" fill-opacity="0.30" stroke="#bcbcbc" stroke-opacity="0.30" stroke-width="0.7"/>
<circle cx="300.21" cy="257.12" r="2.25" fill="#bcbcbc" fill-opacity="0.30" stroke="#bcbcbc" stroke-opacity="0.30" stroke-width="0.7"/>
<circle cx="300.21" cy="262.92" r="2.25" fill="#bcbcbc" fill-opacity="0.30" stroke="#bcbcbc" stroke-opacity="0.30" stroke-width="0.7"/>
<circle cx="300.21" cy="304.59" r="2.25" fill="#bcbcbc" fill-opacity="0.30" stroke="#bcbcbc" stroke-opacity="0.30" stroke-width="0.7"/>
<circle cx="300.21" cy="320.68" r="2.25" fill="#bcbcbc" fill-opacity="0.30" stroke="#bcbcbc" stroke-opacity="0.30" stroke-width="0.7"/>
<circle cx="315.46" cy="304.10" r="2.25" fill="#bcbcbc" fill-opacity="0.48" stroke="#bcbcbc" stroke-opacity="0.48" stroke-width="0.7"/>
<circle cx="315.46" cy="313.41" r="2.25" fill="#bcbcbc" fill-opacity="0.30" stroke="#bcbcbc" stroke-opacity="0.30" stroke-width="0.7"/>
<circle cx="345.94" cy="318.40" r="2.25" fill="#bcbcbc" fill-opacity="0.30" stroke="#bcbcbc" stroke-opacity="0.30" stroke-width="0.7"/>
</g>
<rect x="201.90" y="232.20" width="150.90" height="89.30" fill="none" stroke="#777777" stroke-width="1.20"/>
<clipPath id="c22"><rect x="359.30" y="232.20" width="150.90" height="89.30"/></clipPath>
<g clip-path="url(#c22)">
<path d="M366.16,296.66 C367.81,297.51 372.43,300.19 376.07,301.73 C379.70,303.27 383.99,304.70 387.96,305.90 C391.92,307.09 395.86,308.11 399.84,308.92 C403.83,309.72 407.87,310.25 411.89,310.72 C415.90,311.18 420.93,311.49 423.93,311.70 C426.93,311.90 427.89,312.01 429.87,311.94 C431.85,311.87 434.14,311.66 435.82,311.29 C437.49,310.92 438.23,310.40 439.93,309.74 C441.63,309.07 444.02,307.95 446.03,307.28 C448.04,306.62 449.97,306.13 451.97,305.73 C453.98,305.34 456.09,305.06 458.07,304.91 C460.05,304.77 461.88,304.79 463.86,304.83 C465.84,304.87 467.95,304.91 469.96,305.16 C471.97,305.41 473.92,305.81 475.90,306.30 C477.89,306.79 479.84,307.45 481.85,308.10 C483.86,308.75 485.94,309.42 487.95,310.23 C489.95,311.03 491.91,311.87 493.89,312.92 C495.87,313.97 498.26,315.52 499.84,316.52 C501.41,317.51 502.76,318.49 503.34,318.89" fill="none" stroke="#1f2a80" stroke-width="1.3" stroke-linejoin="round"/>
<line x1="366.16" y1="296.34" x2="503.34" y2="315.78" stroke="#e2525a" stroke-width="2.3" stroke-dasharray="9.2 9.2" stroke-dashoffset="0.00"/>
<text class="pv" x="505.70" y="243.70">P=0.002</text>
<circle cx="366.16" cy="286.70" r="2.25" fill="#bcbcbc" fill-opacity="0.30" stroke="#bcbcbc" stroke-opacity="0.30" stroke-width="0.7"/>
<circle cx="366.16" cy="294.29" r="2.25" fill="#bcbcbc" fill-opacity="0.30" stroke="#bcbcbc" stroke-opacity="0.30" stroke-width="0.7"/>
<circle cx="366.16" cy="299.44" r="2.25" fill="#bcbcbc" fill-opacity="0.30" stroke="#bcbcbc" stroke-opacity="0.30" stroke-width="0.7"/>
<circle cx="366.16" cy="301.81" r="2.25" fill="#bcbcbc" fill-opacity="0.30" stroke="#bcbcbc" stroke-opacity="0.30" stroke-width="0.7"/>
<circle cx="411.89" cy="321.25" r="2.25" fill="#bcbcbc" fill-opacity="0.30" stroke="#bcbcbc" stroke-opacity="0.30" stroke-width="0.7"/>
<circle cx="442.37" cy="278.53" r="2.25" fill="#bcbcbc" fill-opacity="0.30" stroke="#bcbcbc" stroke-opacity="0.30" stroke-width="0.7"/>
<circle cx="442.37" cy="291.27" r="2.25" fill="#bcbcbc" fill-opacity="0.30" stroke="#bcbcbc" stroke-opacity="0.30" stroke-width="0.7"/>
<circle cx="442.37" cy="302.30" r="2.25" fill="#bcbcbc" fill-opacity="0.30" stroke="#bcbcbc" stroke-opacity="0.30" stroke-width="0.7"/>
<circle cx="442.37" cy="311.04" r="2.25" fill="#bcbcbc" fill-opacity="0.30" stroke="#bcbcbc" stroke-opacity="0.30" stroke-width="0.7"/>
<circle cx="442.37" cy="314.64" r="2.25" fill="#bcbcbc" fill-opacity="0.30" stroke="#bcbcbc" stroke-opacity="0.30" stroke-width="0.7"/>
<circle cx="442.37" cy="316.60" r="2.25" fill="#bcbcbc" fill-opacity="0.48" stroke="#bcbcbc" stroke-opacity="0.48" stroke-width="0.7"/>
<circle cx="457.61" cy="254.10" r="2.25" fill="#bcbcbc" fill-opacity="0.30" stroke="#bcbcbc" stroke-opacity="0.30" stroke-width="0.7"/>
<circle cx="457.61" cy="298.30" r="2.25" fill="#bcbcbc" fill-opacity="0.30" stroke="#bcbcbc" stroke-opacity="0.30" stroke-width="0.7"/>
<circle cx="457.61" cy="301.40" r="2.25" fill="#bcbcbc" fill-opacity="0.30" stroke="#bcbcbc" stroke-opacity="0.30" stroke-width="0.7"/>
<circle cx="472.86" cy="288.49" r="2.25" fill="#bcbcbc" fill-opacity="0.30" stroke="#bcbcbc" stroke-opacity="0.30" stroke-width="0.7"/>
<circle cx="472.86" cy="301.40" r="2.25" fill="#bcbcbc" fill-opacity="0.30" stroke="#bcbcbc" stroke-opacity="0.30" stroke-width="0.7"/>
<circle cx="472.86" cy="311.37" r="2.25" fill="#bcbcbc" fill-opacity="0.30" stroke="#bcbcbc" stroke-opacity="0.30" stroke-width="0.7"/>
<circle cx="472.86" cy="321.09" r="2.25" fill="#bcbcbc" fill-opacity="0.30" stroke="#bcbcbc" stroke-opacity="0.30" stroke-width="0.7"/>
<circle cx="488.10" cy="305.32" r="2.25" fill="#bcbcbc" fill-opacity="0.30" stroke="#bcbcbc" stroke-opacity="0.30" stroke-width="0.7"/>
<circle cx="488.10" cy="318.40" r="2.25" fill="#bcbcbc" fill-opacity="0.30" stroke="#bcbcbc" stroke-opacity="0.30" stroke-width="0.7"/>
<circle cx="503.34" cy="315.45" r="2.25" fill="#bcbcbc" fill-opacity="0.30" stroke="#bcbcbc" stroke-opacity="0.30" stroke-width="0.7"/>
<circle cx="503.34" cy="317.42" r="2.25" fill="#bcbcbc" fill-opacity="0.30" stroke="#bcbcbc" stroke-opacity="0.30" stroke-width="0.7"/>
</g>
<rect x="359.30" y="232.20" width="150.90" height="89.30" fill="none" stroke="#777777" stroke-width="1.20"/>
<clipPath id="c32"><rect x="516.70" y="232.20" width="150.90" height="89.30"/></clipPath>
<g clip-path="url(#c32)">
<path d="M523.56,314.88 C524.68,315.40 527.85,317.13 530.27,317.99 C532.68,318.84 535.47,319.51 538.04,320.03 C540.61,320.55 541.82,320.97 545.66,321.09 C549.50,321.21 557.22,321.02 561.06,320.76 C564.89,320.51 566.64,320.06 568.68,319.54 C570.71,319.02 571.70,318.55 573.25,317.66 C574.80,316.78 576.17,315.13 577.97,314.23 C579.78,313.33 581.79,312.70 584.07,312.27 C586.36,311.83 589.13,311.72 591.69,311.61 C594.26,311.51 596.93,311.52 599.47,311.61 C602.01,311.71 604.34,311.83 606.94,312.19 C609.53,312.54 613.67,313.48 615.01,313.74" fill="none" stroke="#1f2a80" stroke-width="1.3" stroke-linejoin="round"/>
<line x1="523.56" y1="321.58" x2="615.01" y2="310.47" stroke="#e2525a" stroke-width="2.3" stroke-dasharray="9.2 9.2" stroke-dashoffset="0.00"/>
<text class="pv" x="663.10" y="243.70">P=0.094</text>
<circle cx="523.56" cy="311.12" r="2.25" fill="#bcbcbc" fill-opacity="0.30" stroke="#bcbcbc" stroke-opacity="0.30" stroke-width="0.7"/>
<circle cx="538.80" cy="299.44" r="2.25" fill="#bcbcbc" fill-opacity="0.30" stroke="#bcbcbc" stroke-opacity="0.30" stroke-width="0.7"/>
<circle cx="538.80" cy="308.75" r="2.25" fill="#bcbcbc" fill-opacity="0.30" stroke="#bcbcbc" stroke-opacity="0.30" stroke-width="0.7"/>
<circle cx="538.80" cy="320.68" r="2.25" fill="#bcbcbc" fill-opacity="0.30" stroke="#bcbcbc" stroke-opacity="0.30" stroke-width="0.7"/>
<circle cx="569.29" cy="301.32" r="2.25" fill="#bcbcbc" fill-opacity="0.30" stroke="#bcbcbc" stroke-opacity="0.30" stroke-width="0.7"/>
<circle cx="599.77" cy="294.29" r="2.25" fill="#bcbcbc" fill-opacity="0.30" stroke="#bcbcbc" stroke-opacity="0.30" stroke-width="0.7"/>
<circle cx="599.77" cy="301.07" r="2.25" fill="#bcbcbc" fill-opacity="0.30" stroke="#bcbcbc" stroke-opacity="0.30" stroke-width="0.7"/>
<circle cx="599.77" cy="318.40" r="2.25" fill="#bcbcbc" fill-opacity="0.30" stroke="#bcbcbc" stroke-opacity="0.30" stroke-width="0.7"/>
<circle cx="615.01" cy="314.64" r="2.25" fill="#bcbcbc" fill-opacity="0.30" stroke="#bcbcbc" stroke-opacity="0.30" stroke-width="0.7"/>
<circle cx="615.01" cy="316.60" r="2.25" fill="#bcbcbc" fill-opacity="0.30" stroke="#bcbcbc" stroke-opacity="0.30" stroke-width="0.7"/>
</g>
<rect x="516.70" y="232.20" width="150.90" height="89.30" fill="none" stroke="#777777" stroke-width="1.20"/>
<text class="ax" x="38" y="133.20" text-anchor="end">0%</text>
<text class="ax" x="38" y="112.78" text-anchor="end">25%</text>
<text class="ax" x="38" y="92.35" text-anchor="end">50%</text>
<text class="ax" x="38" y="71.93" text-anchor="end">75%</text>
<text class="ax" x="38" y="51.50" text-anchor="end">100%</text>
<text class="ax" x="38" y="229.20" text-anchor="end">0%</text>
<text class="ax" x="38" y="208.78" text-anchor="end">25%</text>
<text class="ax" x="38" y="188.35" text-anchor="end">50%</text>
<text class="ax" x="38" y="167.93" text-anchor="end">75%</text>
<text class="ax" x="38" y="147.50" text-anchor="end">100%</text>
<text class="ax" x="38" y="325.40" text-anchor="end">0%</text>
<text class="ax" x="38" y="304.97" text-anchor="end">25%</text>
<text class="ax" x="38" y="284.55" text-anchor="end">50%</text>
<text class="ax" x="38" y="264.12" text-anchor="end">75%</text>
<text class="ax" x="38" y="243.70" text-anchor="end">100%</text>
<text class="ax" x="66.60" y="334.3" text-anchor="middle">2014</text>
<text class="ax" x="97.09" y="334.3" text-anchor="middle">2016</text>
<text class="ax" x="127.57" y="334.3" text-anchor="middle">2018</text>
<text class="ax" x="158.06" y="334.3" text-anchor="middle">2020</text>
<text class="ax" x="188.54" y="334.3" text-anchor="middle">2022</text>
<text class="ax" x="224.00" y="334.3" text-anchor="middle">2014</text>
<text class="ax" x="254.49" y="334.3" text-anchor="middle">2016</text>
<text class="ax" x="284.97" y="334.3" text-anchor="middle">2018</text>
<text class="ax" x="315.46" y="334.3" text-anchor="middle">2020</text>
<text class="ax" x="345.94" y="334.3" text-anchor="middle">2022</text>
<text class="ax" x="381.40" y="334.3" text-anchor="middle">2014</text>
<text class="ax" x="411.89" y="334.3" text-anchor="middle">2016</text>
<text class="ax" x="442.37" y="334.3" text-anchor="middle">2018</text>
<text class="ax" x="472.86" y="334.3" text-anchor="middle">2020</text>
<text class="ax" x="503.34" y="334.3" text-anchor="middle">2022</text>
<text class="ax" x="538.80" y="334.3" text-anchor="middle">2014</text>
<text class="ax" x="569.29" y="334.3" text-anchor="middle">2016</text>
<text class="ax" x="599.77" y="334.3" text-anchor="middle">2018</text>
<text class="ax" x="630.26" y="334.3" text-anchor="middle">2020</text>
<text class="ax" x="660.74" y="334.3" text-anchor="middle">2022</text>
<text x="356.2" y="346.8" text-anchor="middle" style="font-size:12.2px;fill:#000">Year</text>
<text x="0" y="0" text-anchor="middle" transform="translate(11.0,180.6) rotate(-90)" style="font-size:12px;fill:#000">Prevalence (%)</text>
<text x="235.6" y="380.4" style="font-size:12.1px;fill:#000">Sample size</text>
<circle cx="308.00" cy="376.1" r="2.05" fill="#e2e2e2"/>
<text x="323.70" y="379.9" style="font-size:9.4px;fill:#000">300</text>
<circle cx="352.90" cy="376.1" r="2.30" fill="#d7d7d7"/>
<text x="367.60" y="379.9" style="font-size:9.4px;fill:#000">600</text>
<circle cx="397.60" cy="376.1" r="2.50" fill="#cdcdcd"/>
<text x="412.60" y="379.9" style="font-size:9.4px;fill:#000">900</text>
<circle cx="441.50" cy="376.1" r="2.60" fill="#c4c4c4"/>
<text x="457.50" y="379.9" style="font-size:9.4px;fill:#000">1200</text>
</svg></body></html>
